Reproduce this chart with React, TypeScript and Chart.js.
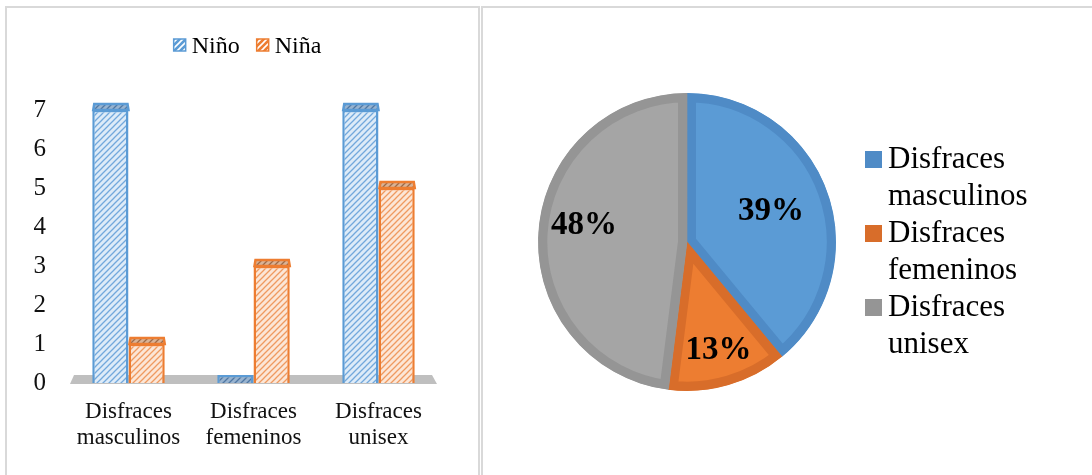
import React, { useEffect, useRef } from "react";
import { Chart, registerables } from "chart.js";

Chart.register(...registerables);

// ---- Data ----
const categories: string[][] = [
  ["Disfraces", "masculinos"],
  ["Disfraces", "femeninos"],
  ["Disfraces", "unisex"],
];
const seriesNames = ["Niño", "Niña"];
const ninoValues = [7, 0, 7];
const ninaValues = [1, 3, 5];
const yTickMax = 7;

const pieLabels: string[][] = [
  ["Disfraces", "masculinos"],
  ["Disfraces", "femeninos"],
  ["Disfraces", "unisex"],
];
const pieValues = [39, 13, 48];

// ---- Styles ----
const SERIF = "'Liberation Serif', 'Times New Roman', serif";
const BLUE = "#5b9bd5";
const ORANGE = "#ed7d31";
const pieFill = ["#5b9bd5", "#ed7d31", "#a5a5a5"];
const pieBorder = ["#4f8bc6", "#d86d2a", "#959595"];

function makeHatch(bg: string, line: string, lw = 1.3) {
  const c = document.createElement("canvas");
  c.width = 6;
  c.height = 6;
  const x = c.getContext("2d")!;
  x.fillStyle = bg;
  x.fillRect(0, 0, 6, 6);
  x.strokeStyle = line;
  x.lineWidth = lw;
  x.beginPath();
  x.moveTo(-1, 7);
  x.lineTo(7, -1);
  x.moveTo(-1, 1);
  x.lineTo(1, -1);
  x.moveTo(5, 7);
  x.lineTo(7, 5);
  x.stroke();
  return x.createPattern(c, "repeat")!;
}

function BarPanel() {
  const ref = useRef<HTMLCanvasElement>(null);
  useEffect(() => {
    const canvas = ref.current!;
    const blueHatch = makeHatch("#ddebf8", "#72a8dc");
    const orangeHatch = makeHatch("#fce6d6", "#ef9a60");
    const blueCap = makeHatch("#98b3cf", "#4f77a3");
    const orangeCap = makeHatch("#d8b296", "#9c6a48");
    const caps = [blueCap, orangeCap];
    const borders = [BLUE, ORANGE];

    const deco = {
      id: "deco3d",
      beforeDatasetsDraw(chart: any) {
        const { ctx, chartArea } = chart;
        const y0 = chart.scales.y.getPixelForValue(0);
        ctx.save();
        ctx.fillStyle = "#bfbfbf";
        ctx.beginPath();
        ctx.moveTo(chartArea.left + 4, y0 + 1);
        ctx.lineTo(chartArea.right - 4, y0 + 1);
        ctx.lineTo(chartArea.right - 9, y0 - 8);
        ctx.lineTo(chartArea.left + 8, y0 - 8);
        ctx.closePath();
        ctx.fill();
        ctx.restore();
      },
      afterDatasetsDraw(chart: any) {
        const { ctx } = chart;
        ctx.save();
        chart.data.datasets.forEach((ds: any, di: number) => {
          const meta = chart.getDatasetMeta(di);
          meta.data.forEach((bar: any, i: number) => {
            if (!ds.data[i]) return;
            const { x, y, width } = bar.getProps(["x", "y", "width"], true);
            const l = x - width / 2;
            const r = x + width / 2;
            ctx.fillStyle = caps[di];
            ctx.strokeStyle = borders[di];
            ctx.lineWidth = 2.5;
            ctx.beginPath();
            ctx.moveTo(l + 1, y);
            ctx.lineTo(l + 2, y - 6);
            ctx.lineTo(r - 1, y - 6);
            ctx.lineTo(r, y);
            ctx.closePath();
            ctx.fill();
            ctx.stroke();
          });
        });
        ctx.restore();
      },
      afterDraw(chart: any) {
        const { ctx, chartArea } = chart;
        ctx.save();
        ctx.font = `24px ${SERIF}`;
        const box = 12;
        const gapText = 6;
        const gapItem = 17;
        const widths = seriesNames.map((n) => box + gapText + ctx.measureText(n).width);
        const total = widths.reduce((a, b) => a + b, 0) + gapItem * (widths.length - 1);
        let x = (chartArea.left + chartArea.right) / 2 - 6 - total / 2;
        const cy = 45;
        const legendFill = [makeHatch(BLUE, "#ffffff", 1.6), makeHatch(ORANGE, "#ffffff", 1.6)];
        seriesNames.forEach((n, i) => {
          ctx.fillStyle = legendFill[i];
          ctx.fillRect(x, cy - box / 2, box, box);
          ctx.strokeStyle = borders[i];
          ctx.lineWidth = 1.5;
          ctx.strokeRect(x, cy - box / 2, box, box);
          ctx.fillStyle = "#000";
          ctx.textBaseline = "alphabetic";
          ctx.textAlign = "left";
          ctx.fillText(n, x + box + gapText, cy + 8);
          x += widths[i] + gapItem;
        });
        ctx.restore();
      },
    };

    const chart = new Chart(canvas, {
      type: "bar",
      data: {
        labels: categories as any,
        datasets: [
          {
            label: seriesNames[0],
            data: ninoValues,
            backgroundColor: ninoValues.map((v) => (v ? blueHatch : blueCap)) as any,
            borderColor: BLUE,
            borderWidth: 2.5,
            minBarLength: 8,
            categoryPercentage: 0.58,
            barPercentage: 1,
          },
          {
            label: seriesNames[1],
            data: ninaValues,
            backgroundColor: orangeHatch as any,
            borderColor: ORANGE,
            borderWidth: 2.5,
            categoryPercentage: 0.58,
            barPercentage: 1,
          },
        ],
      },
      options: {
        animation: false,
        responsive: false,
        layout: { padding: { left: 0, right: 39, top: 110, bottom: 0 } },
        plugins: { legend: { display: false }, tooltip: { enabled: false } },
        scales: {
          x: {
            grid: { display: false, drawTicks: false },
            border: { display: false },
            ticks: {
              font: { family: SERIF, size: 23, lineHeight: 1.17 },
              color: "#111",
              padding: 15,
              maxRotation: 0,
              autoSkip: false,
            },
            afterFit: (s: any) => {
              s.height = 92;
            },
          },
          y: {
            min: 0,
            max: yTickMax,
            grid: { display: false, drawTicks: false },
            border: { display: false },
            ticks: {
              stepSize: 1,
              font: { family: SERIF, size: 25 },
              color: "#111",
              padding: 20,
            },
            afterFit: (s: any) => {
              s.width = 66;
            },
          },
        },
      },
      plugins: [deco],
    });
    return () => chart.destroy();
  }, []);
  return <canvas ref={ref} width={480} height={475} style={{ position: "absolute", left: 0, top: 0 }} />;
}

function PiePanel() {
  const ref = useRef<HTMLCanvasElement>(null);
  useEffect(() => {
    const canvas = ref.current!;
    const labelRadius = [0.6, 0.76, 0.7];
    const labelAngleShift = [0, 0, 0.1];
    const pieDeco = {
      id: "pieDeco",
      afterDatasetsDraw(chart: any) {
        const { ctx } = chart;
        const meta = chart.getDatasetMeta(0);
        ctx.save();
        ctx.font = `bold 33px ${SERIF}`;
        ctx.fillStyle = "#000";
        ctx.textAlign = "center";
        ctx.textBaseline = "middle";
        meta.data.forEach((arc: any, i: number) => {
          const { x, y, startAngle, endAngle, outerRadius } = arc.getProps(
            ["x", "y", "startAngle", "endAngle", "outerRadius"],
            true
          );
          const mid = (startAngle + endAngle) / 2 + labelAngleShift[i];
          const r = outerRadius * labelRadius[i];
          ctx.fillText(`${pieValues[i]}%`, x + Math.cos(mid) * r, y + Math.sin(mid) * r);
        });
        ctx.restore();
      },
      afterDraw(chart: any) {
        const { ctx } = chart;
        ctx.save();
        ctx.font = `31px ${SERIF}`;
        ctx.textAlign = "left";
        ctx.textBaseline = "alphabetic";
        pieLabels.forEach((lines, i) => {
          const base = 168 + 74 * i;
          ctx.fillStyle = pieBorder[i];
          ctx.fillRect(383, base - 17, 17, 17);
          ctx.fillStyle = "#000";
          lines.forEach((t, j) => ctx.fillText(t, 406, base + 37 * j));
        });
        ctx.restore();
      },
    };
    const chart = new Chart(canvas, {
      type: "pie",
      data: {
        labels: pieLabels.map((l) => l.join(" ")),
        datasets: [
          {
            data: pieValues,
            backgroundColor: pieFill,
            borderColor: pieBorder,
            borderWidth: 9,
            borderAlign: "inner" as any,
          },
        ],
      },
      options: {
        animation: false,
        responsive: false,
        layout: { padding: { left: 56, right: 256, top: 93, bottom: 84 } },
        plugins: { legend: { display: false }, tooltip: { enabled: false } },
      },
      plugins: [pieDeco],
    });
    return () => chart.destroy();
  }, []);
  return <canvas ref={ref} width={610} height={475} style={{ position: "absolute", left: 482, top: 0 }} />;
}

export default function App() {
  const border = "2px solid #d9d9d9";
  return (
    <div
      style={{
        position: "absolute",
        left: 0,
        top: 0,
        width: 1092,
        height: 475,
        overflow: "hidden",
        background: "#fff",
      }}
    >
      <BarPanel />
      <PiePanel />
      <div
        style={{
          position: "absolute",
          left: 5,
          top: 6,
          width: 471,
          height: 500,
          borderLeft: border,
          borderTop: border,
          borderRight: border,
          pointerEvents: "none",
        }}
      />
      <div
        style={{
          position: "absolute",
          left: 481,
          top: 6,
          width: 620,
          height: 500,
          borderLeft: border,
          borderTop: border,
          pointerEvents: "none",
        }}
      />
    </div>
  );
}
